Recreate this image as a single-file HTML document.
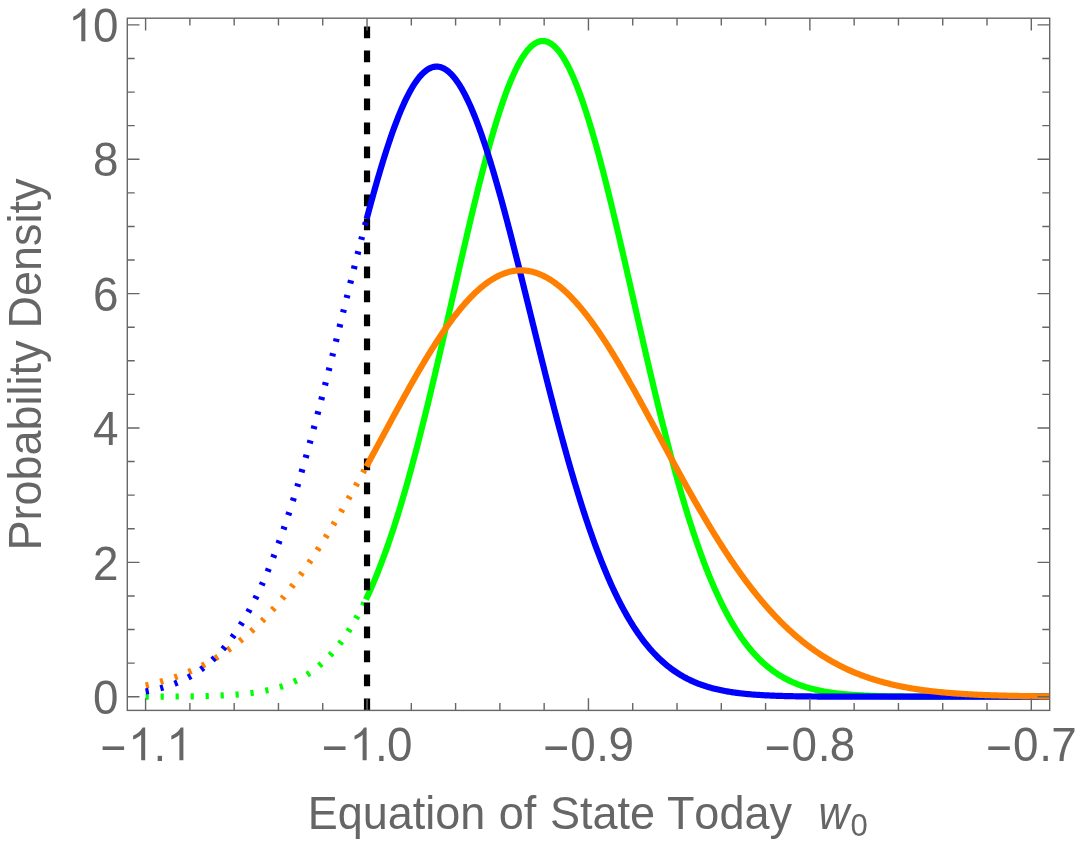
<!DOCTYPE html>
<html><head><meta charset="utf-8"><title>plot</title>
<style>html,body{margin:0;padding:0;background:#fff;}svg{display:block;will-change:transform;}text{font-kerning:none;}</style></head>
<body>
<svg width="1080" height="843" viewBox="0 0 1080 843">
<rect x="0" y="0" width="1080" height="843" fill="#fff"/>
<defs><clipPath id="cp"><rect x="127.30" y="18.20" width="922.40" height="692.20"/></clipPath></defs>
<g clip-path="url(#cp)" fill="none" stroke-linejoin="round">
<path d="M145.60 696.66 L146.71 696.65 L147.81 696.65 L148.92 696.65 L150.03 696.65 L151.14 696.64 L152.24 696.64 L153.35 696.64 L154.46 696.63 L155.56 696.63 L156.67 696.63 L157.78 696.62 L158.89 696.62 L159.99 696.61 L161.10 696.61 L162.21 696.60 L163.31 696.60 L164.42 696.59 L165.53 696.59 L166.64 696.58 L167.74 696.58 L168.85 696.57 L169.96 696.56 L171.06 696.56 L172.17 696.55 L173.28 696.54 L174.39 696.53 L175.49 696.53 L176.60 696.52 L177.71 696.51 L178.81 696.50 L179.92 696.49 L181.03 696.48 L182.14 696.47 L183.24 696.45 L184.35 696.44 L185.46 696.43 L186.56 696.42 L187.67 696.40 L188.78 696.39 L189.89 696.37 L190.99 696.36 L192.10 696.34 L193.21 696.32 L194.31 696.30 L195.42 696.28 L196.53 696.26 L197.63 696.24 L198.74 696.22 L199.85 696.20 L200.96 696.18 L202.06 696.15 L203.17 696.12 L204.28 696.10 L205.38 696.07 L206.49 696.04 L207.60 696.01 L208.71 695.98 L209.81 695.94 L210.92 695.91 L212.03 695.87 L213.13 695.84 L214.24 695.80 L215.35 695.76 L216.46 695.71 L217.56 695.67 L218.67 695.62 L219.78 695.57 L220.88 695.52 L221.99 695.47 L223.10 695.42 L224.21 695.36 L225.31 695.30 L226.42 695.24 L227.53 695.18 L228.63 695.11 L229.74 695.04 L230.85 694.97 L231.96 694.90 L233.06 694.82 L234.17 694.74 L235.28 694.66 L236.38 694.57 L237.49 694.48 L238.60 694.39 L239.71 694.29 L240.81 694.19 L241.92 694.08 L243.03 693.98 L244.13 693.86 L245.24 693.75 L246.35 693.63 L247.46 693.50 L248.56 693.37 L249.67 693.24 L250.78 693.10 L251.88 692.95 L252.99 692.80 L254.10 692.65 L255.21 692.48 L256.31 692.32 L257.42 692.15 L258.53 691.97 L259.63 691.78 L260.74 691.59 L261.85 691.39 L262.96 691.19 L264.06 690.98 L265.17 690.76 L266.28 690.53 L267.38 690.30 L268.49 690.05 L269.60 689.80 L270.71 689.54 L271.81 689.28 L272.92 689.00 L274.03 688.71 L275.13 688.42 L276.24 688.12 L277.35 687.80 L278.46 687.48 L279.56 687.14 L280.67 686.80 L281.78 686.44 L282.88 686.07 L283.99 685.69 L285.10 685.30 L286.20 684.90 L287.31 684.48 L288.42 684.06 L289.53 683.62 L290.63 683.16 L291.74 682.69 L292.85 682.21 L293.95 681.71 L295.06 681.20 L296.17 680.68 L297.28 680.13 L298.38 679.58 L299.49 679.00 L300.60 678.41 L301.70 677.81 L302.81 677.18 L303.92 676.54 L305.03 675.88 L306.13 675.20 L307.24 674.51 L308.35 673.79 L309.45 673.05 L310.56 672.30 L311.67 671.52 L312.78 670.73 L313.88 669.91 L314.99 669.07 L316.10 668.21 L317.20 667.32 L318.31 666.42 L319.42 665.49 L320.53 664.53 L321.63 663.55 L322.74 662.55 L323.85 661.52 L324.95 660.47 L326.06 659.39 L327.17 658.28 L328.28 657.15 L329.38 655.99 L330.49 654.80 L331.60 653.59 L332.70 652.34 L333.81 651.07 L334.92 649.77 L336.03 648.43 L337.13 647.07 L338.24 645.67 L339.35 644.25 L340.45 642.79 L341.56 641.30 L342.67 639.78 L343.78 638.22 L344.88 636.63 L345.99 635.01 L347.10 633.35 L348.20 631.66 L349.31 629.93 L350.42 628.17 L351.53 626.37 L352.63 624.53 L353.74 622.66 L354.85 620.75 L355.95 618.80 L357.06 616.81 L358.17 614.79 L359.28 612.73 L360.38 610.62 L361.49 608.48 L362.60 606.30 L363.70 604.08 L364.81 601.82 L365.92 599.52 L367.03 597.17" stroke="#00ff00" stroke-width="6.20" stroke-dasharray="3.2 11.8"/>
<path d="M365.92 599.52 L367.06 597.09 L368.21 594.62 L369.36 592.11 L370.50 589.55 L371.65 586.94 L372.79 584.29 L373.94 581.60 L375.08 578.86 L376.23 576.07 L377.38 573.24 L378.52 570.36 L379.67 567.43 L380.81 564.46 L381.96 561.44 L383.11 558.38 L384.25 555.26 L385.40 552.10 L386.54 548.90 L387.69 545.65 L388.84 542.35 L389.98 539.00 L391.13 535.60 L392.27 532.16 L393.42 528.68 L394.56 525.14 L395.71 521.57 L396.86 517.94 L398.00 514.27 L399.15 510.55 L400.29 506.79 L401.44 502.98 L402.59 499.13 L403.73 495.24 L404.88 491.30 L406.02 487.31 L407.17 483.29 L408.32 479.22 L409.46 475.11 L410.61 470.95 L411.75 466.76 L412.90 462.53 L414.04 458.25 L415.19 453.94 L416.34 449.59 L417.48 445.20 L418.63 440.77 L419.77 436.31 L420.92 431.81 L422.07 427.28 L423.21 422.72 L424.36 418.12 L425.50 413.49 L426.65 408.83 L427.80 404.14 L428.94 399.42 L430.09 394.67 L431.23 389.90 L432.38 385.10 L433.52 380.28 L434.67 375.43 L435.82 370.56 L436.96 365.67 L438.11 360.76 L439.25 355.83 L440.40 350.89 L441.55 345.93 L442.69 340.96 L443.84 335.97 L444.98 330.97 L446.13 325.97 L447.27 320.95 L448.42 315.93 L449.57 310.90 L450.71 305.87 L451.86 300.84 L453.00 295.80 L454.15 290.77 L455.30 285.74 L456.44 280.71 L457.59 275.69 L458.73 270.68 L459.88 265.68 L461.03 260.68 L462.17 255.70 L463.32 250.74 L464.46 245.79 L465.61 240.86 L466.75 235.95 L467.90 231.06 L469.05 226.20 L470.19 221.36 L471.34 216.55 L472.48 211.76 L473.63 207.01 L474.78 202.29 L475.92 197.61 L477.07 192.96 L478.21 188.35 L479.36 183.78 L480.51 179.25 L481.65 174.76 L482.80 170.32 L483.94 165.93 L485.09 161.59 L486.23 157.29 L487.38 153.05 L488.53 148.87 L489.67 144.74 L490.82 140.67 L491.96 136.66 L493.11 132.71 L494.26 128.82 L495.40 125.00 L496.55 121.24 L497.69 117.55 L498.84 113.94 L499.99 110.39 L501.13 106.92 L502.28 103.52 L503.42 100.20 L504.57 96.95 L505.71 93.78 L506.86 90.70 L508.01 87.70 L509.15 84.77 L510.30 81.94 L511.44 79.19 L512.59 76.52 L513.74 73.95 L514.88 71.46 L516.03 69.07 L517.17 66.76 L518.32 64.55 L519.47 62.44 L520.61 60.42 L521.76 58.49 L522.90 56.66 L524.05 54.93 L525.19 53.30 L526.34 51.76 L527.49 50.33 L528.63 49.00 L529.78 47.77 L530.92 46.64 L532.07 45.61 L533.22 44.68 L534.36 43.86 L535.51 43.14 L536.65 42.53 L537.80 42.02 L538.94 41.62 L540.09 41.32 L541.24 41.12 L542.38 41.03 L543.53 41.04 L544.67 41.16 L545.82 41.39 L546.97 41.72 L548.11 42.15 L549.26 42.69 L550.40 43.34 L551.55 44.08 L552.70 44.94 L553.84 45.89 L554.99 46.95 L556.13 48.11 L557.28 49.37 L558.42 50.73 L559.57 52.19 L560.72 53.75 L561.86 55.41 L563.01 57.17 L564.15 59.03 L565.30 60.98 L566.45 63.03 L567.59 65.18 L568.74 67.41 L569.88 69.74 L571.03 72.16 L572.18 74.67 L573.32 77.27 L574.47 79.96 L575.61 82.74 L576.76 85.60 L577.90 88.54 L579.05 91.57 L580.20 94.68 L581.34 97.87 L582.49 101.14 L583.63 104.48 L584.78 107.90 L585.93 111.39 L587.07 114.96 L588.22 118.60 L589.36 122.31 L590.51 126.08 L591.66 129.92 L592.80 133.83 L593.95 137.79 L595.09 141.82 L596.24 145.91 L597.38 150.06 L598.53 154.26 L599.68 158.51 L600.82 162.82 L601.97 167.18 L603.11 171.58 L604.26 176.04 L605.41 180.53 L606.55 185.07 L607.70 189.66 L608.84 194.28 L609.99 198.94 L611.13 203.63 L612.28 208.36 L613.43 213.12 L614.57 217.92 L615.72 222.74 L616.86 227.58 L618.01 232.45 L619.16 237.35 L620.30 242.27 L621.45 247.20 L622.59 252.15 L623.74 257.12 L624.89 262.11 L626.03 267.10 L627.18 272.11 L628.32 277.12 L629.47 282.14 L630.61 287.17 L631.76 292.20 L632.91 297.24 L634.05 302.27 L635.20 307.30 L636.34 312.33 L637.49 317.36 L638.64 322.38 L639.78 327.39 L640.93 332.40 L642.07 337.39 L643.22 342.38 L644.37 347.35 L645.51 352.30 L646.66 357.24 L647.80 362.16 L648.95 367.07 L650.09 371.95 L651.24 376.81 L652.39 381.65 L653.53 386.47 L654.68 391.26 L655.82 396.03 L656.97 400.77 L658.12 405.48 L659.26 410.16 L660.41 414.81 L661.55 419.43 L662.70 424.02 L663.85 428.58 L664.99 433.10 L666.14 437.59 L667.28 442.04 L668.43 446.45 L669.57 450.83 L670.72 455.17 L671.87 459.47 L673.01 463.74 L674.16 467.96 L675.30 472.14 L676.45 476.28 L677.60 480.38 L678.74 484.44 L679.89 488.45 L681.03 492.42 L682.18 496.35 L683.33 500.23 L684.47 504.07 L685.62 507.87 L686.76 511.62 L687.91 515.32 L689.05 518.98 L690.20 522.59 L691.35 526.16 L692.49 529.68 L693.64 533.15 L694.78 536.58 L695.93 539.96 L697.08 543.29 L698.22 546.58 L699.37 549.82 L700.51 553.01 L701.66 556.16 L702.80 559.25 L703.95 562.31 L705.10 565.31 L706.24 568.27 L707.39 571.18 L708.53 574.05 L709.68 576.87 L710.83 579.64 L711.97 582.37 L713.12 585.05 L714.26 587.69 L715.41 590.28 L716.56 592.83 L717.70 595.33 L718.85 597.79 L719.99 600.20 L721.14 602.57 L722.28 604.90 L723.43 607.18 L724.58 609.42 L725.72 611.62 L726.87 613.77 L728.01 615.89 L729.16 617.96 L730.31 619.99 L731.45 621.98 L732.60 623.93 L733.74 625.85 L734.89 627.72 L736.04 629.55 L737.18 631.35 L738.33 633.11 L739.47 634.83 L740.62 636.51 L741.76 638.16 L742.91 639.77 L744.06 641.34 L745.20 642.88 L746.35 644.39 L747.49 645.86 L748.64 647.30 L749.79 648.71 L750.93 650.08 L752.08 651.42 L753.22 652.73 L754.37 654.01 L755.52 655.26 L756.66 656.48 L757.81 657.66 L758.95 658.82 L760.10 659.95 L761.24 661.06 L762.39 662.13 L763.54 663.18 L764.68 664.20 L765.83 665.20 L766.97 666.17 L768.12 667.11 L769.27 668.03 L770.41 668.93 L771.56 669.80 L772.70 670.65 L773.85 671.48 L775.00 672.28 L776.14 673.06 L777.29 673.82 L778.43 674.56 L779.58 675.28 L780.72 675.98 L781.87 676.66 L783.02 677.32 L784.16 677.96 L785.31 678.59 L786.45 679.19 L787.60 679.78 L788.75 680.35 L789.89 680.90 L791.04 681.44 L792.18 681.96 L793.33 682.47 L794.47 682.96 L795.62 683.44 L796.77 683.90 L797.91 684.35 L799.06 684.78 L800.20 685.20 L801.35 685.61 L802.50 686.00 L803.64 686.39 L804.79 686.76 L805.93 687.11 L807.08 687.46 L808.23 687.80 L809.37 688.12 L810.52 688.44 L811.66 688.74 L812.81 689.04 L813.95 689.32 L815.10 689.60 L816.25 689.86 L817.39 690.12 L818.54 690.37 L819.68 690.61 L820.83 690.84 L821.98 691.06 L823.12 691.28 L824.27 691.49 L825.41 691.69 L826.56 691.88 L827.71 692.07 L828.85 692.25 L830.00 692.43 L831.14 692.60 L832.29 692.76 L833.43 692.92 L834.58 693.07 L835.73 693.21 L836.87 693.35 L838.02 693.49 L839.16 693.62 L840.31 693.74 L841.46 693.86 L842.60 693.98 L843.75 694.09 L844.89 694.20 L846.04 694.30 L847.19 694.40 L848.33 694.50 L849.48 694.59 L850.62 694.68 L851.77 694.77 L852.91 694.85 L854.06 694.93 L855.21 695.00 L856.35 695.07 L857.50 695.14 L858.64 695.21 L859.79 695.28 L860.94 695.34 L862.08 695.40 L863.23 695.45 L864.37 695.51 L865.52 695.56 L866.66 695.61 L867.81 695.66 L868.96 695.71 L870.10 695.75 L871.25 695.79 L872.39 695.83 L873.54 695.87 L874.69 695.91 L875.83 695.95 L876.98 695.98 L878.12 696.01 L879.27 696.05 L880.42 696.08 L881.56 696.10 L882.71 696.13 L883.85 696.16 L885.00 696.18 L886.14 696.21 L887.29 696.23 L888.44 696.25 L889.58 696.27 L890.73 696.29 L891.87 696.31 L893.02 696.33 L894.17 696.35 L895.31 696.37 L896.46 696.38 L897.60 696.40 L898.75 696.41 L899.90 696.43 L901.04 696.44 L902.19 696.45 L903.33 696.46 L904.48 696.48 L905.62 696.49 L906.77 696.50 L907.92 696.51 L909.06 696.52 L910.21 696.53 L911.35 696.54 L912.50 696.54 L913.65 696.55 L914.79 696.56 L915.94 696.57 L917.08 696.57 L918.23 696.58 L919.38 696.59 L920.52 696.59 L921.67 696.60 L922.81 696.60 L923.96 696.61 L925.10 696.61 L926.25 696.62 L927.40 696.62 L928.54 696.63 L929.69 696.63 L930.83 696.63 L931.98 696.64 L933.13 696.64 L934.27 696.64 L935.42 696.65 L936.56 696.65 L937.71 696.65 L938.86 696.65 L940.00 696.66 L941.15 696.66 L942.29 696.66 L943.44 696.66 L944.58 696.67 L945.73 696.67 L946.88 696.67 L948.02 696.67 L949.17 696.67 L950.31 696.67 L951.46 696.68 L952.61 696.68 L953.75 696.68 L954.90 696.68 L956.04 696.68 L957.19 696.68 L958.33 696.68 L959.48 696.68 L960.63 696.68 L961.77 696.69 L962.92 696.69 L964.06 696.69 L965.21 696.69 L966.36 696.69 L967.50 696.69 L968.65 696.69 L969.79 696.69 L970.94 696.69 L972.09 696.69 L973.23 696.69 L974.38 696.69 L975.52 696.69 L976.67 696.69 L977.81 696.69 L978.96 696.69 L980.11 696.69 L981.25 696.69 L982.40 696.70 L983.54 696.70 L984.69 696.70 L985.84 696.70 L986.98 696.70 L988.13 696.70 L989.27 696.70 L990.42 696.70 L991.57 696.70 L992.71 696.70 L993.86 696.70 L995.00 696.70 L996.15 696.70 L997.29 696.70 L998.44 696.70 L999.59 696.70 L1000.73 696.70 L1001.88 696.70 L1003.02 696.70 L1004.17 696.70 L1005.32 696.70 L1006.46 696.70 L1007.61 696.70 L1008.75 696.70 L1009.90 696.70 L1011.05 696.70 L1012.19 696.70 L1013.34 696.70 L1014.48 696.70 L1015.63 696.70 L1016.77 696.70 L1017.92 696.70 L1019.07 696.70 L1020.21 696.70 L1021.36 696.70 L1022.50 696.70 L1023.65 696.70 L1024.80 696.70 L1025.94 696.70 L1027.09 696.70 L1028.23 696.70 L1029.38 696.70 L1030.53 696.70 L1031.67 696.70 L1032.82 696.70 L1033.96 696.70 L1035.11 696.70 L1036.25 696.70 L1037.40 696.70 L1038.55 696.70 L1039.69 696.70 L1040.84 696.70 L1041.98 696.70 L1043.13 696.70 L1044.28 696.70 L1045.42 696.70 L1046.57 696.70 L1047.71 696.70 L1048.86 696.70 L1050.00 696.70 L1051.15 696.70 L1052.30 696.70 L1053.44 696.70" stroke="#00ff00" stroke-width="6.20"/>
<path d="M367.03 26.40 L367.03 715.40" stroke="#000" stroke-width="6.2" stroke-dasharray="11.8 12.2"/>
<path d="M145.60 685.42 L146.71 685.18 L147.81 684.93 L148.92 684.67 L150.03 684.42 L151.14 684.15 L152.24 683.89 L153.35 683.61 L154.46 683.34 L155.56 683.06 L156.67 682.77 L157.78 682.48 L158.89 682.18 L159.99 681.88 L161.10 681.57 L162.21 681.25 L163.31 680.94 L164.42 680.61 L165.53 680.28 L166.64 679.94 L167.74 679.60 L168.85 679.26 L169.96 678.90 L171.06 678.54 L172.17 678.18 L173.28 677.80 L174.39 677.43 L175.49 677.04 L176.60 676.65 L177.71 676.25 L178.81 675.85 L179.92 675.44 L181.03 675.02 L182.14 674.60 L183.24 674.17 L184.35 673.73 L185.46 673.28 L186.56 672.83 L187.67 672.37 L188.78 671.91 L189.89 671.43 L190.99 670.95 L192.10 670.46 L193.21 669.97 L194.31 669.46 L195.42 668.95 L196.53 668.43 L197.63 667.90 L198.74 667.37 L199.85 666.83 L200.96 666.27 L202.06 665.71 L203.17 665.15 L204.28 664.57 L205.38 663.98 L206.49 663.39 L207.60 662.79 L208.71 662.18 L209.81 661.56 L210.92 660.93 L212.03 660.29 L213.13 659.64 L214.24 658.99 L215.35 658.32 L216.46 657.65 L217.56 656.97 L218.67 656.27 L219.78 655.57 L220.88 654.86 L221.99 654.14 L223.10 653.41 L224.21 652.67 L225.31 651.92 L226.42 651.15 L227.53 650.38 L228.63 649.60 L229.74 648.81 L230.85 648.01 L231.96 647.20 L233.06 646.38 L234.17 645.55 L235.28 644.70 L236.38 643.85 L237.49 642.99 L238.60 642.11 L239.71 641.23 L240.81 640.33 L241.92 639.42 L243.03 638.51 L244.13 637.58 L245.24 636.64 L246.35 635.69 L247.46 634.73 L248.56 633.75 L249.67 632.77 L250.78 631.77 L251.88 630.77 L252.99 629.75 L254.10 628.72 L255.21 627.68 L256.31 626.62 L257.42 625.56 L258.53 624.48 L259.63 623.39 L260.74 622.30 L261.85 621.18 L262.96 620.06 L264.06 618.93 L265.17 617.78 L266.28 616.62 L267.38 615.45 L268.49 614.27 L269.60 613.08 L270.71 611.87 L271.81 610.65 L272.92 609.42 L274.03 608.18 L275.13 606.93 L276.24 605.66 L277.35 604.39 L278.46 603.10 L279.56 601.79 L280.67 600.48 L281.78 599.15 L282.88 597.82 L283.99 596.47 L285.10 595.11 L286.20 593.73 L287.31 592.35 L288.42 590.95 L289.53 589.54 L290.63 588.12 L291.74 586.68 L292.85 585.24 L293.95 583.78 L295.06 582.31 L296.17 580.83 L297.28 579.34 L298.38 577.83 L299.49 576.32 L300.60 574.79 L301.70 573.25 L302.81 571.70 L303.92 570.14 L305.03 568.56 L306.13 566.98 L307.24 565.38 L308.35 563.78 L309.45 562.16 L310.56 560.53 L311.67 558.89 L312.78 557.23 L313.88 555.57 L314.99 553.90 L316.10 552.21 L317.20 550.52 L318.31 548.81 L319.42 547.10 L320.53 545.37 L321.63 543.64 L322.74 541.89 L323.85 540.13 L324.95 538.37 L326.06 536.59 L327.17 534.80 L328.28 533.01 L329.38 531.20 L330.49 529.39 L331.60 527.56 L332.70 525.73 L333.81 523.89 L334.92 522.04 L336.03 520.18 L337.13 518.31 L338.24 516.44 L339.35 514.55 L340.45 512.66 L341.56 510.76 L342.67 508.85 L343.78 506.94 L344.88 505.01 L345.99 503.08 L347.10 501.15 L348.20 499.20 L349.31 497.25 L350.42 495.29 L351.53 493.33 L352.63 491.36 L353.74 489.38 L354.85 487.40 L355.95 485.41 L357.06 483.42 L358.17 481.42 L359.28 479.42 L360.38 477.41 L361.49 475.40 L362.60 473.38 L363.70 471.36 L364.81 469.34 L365.92 467.31 L367.03 465.28" stroke="#ff8000" stroke-width="6.20" stroke-dasharray="3.2 11.8"/>
<path d="M145.60 691.47 L146.71 691.28 L147.81 691.08 L148.92 690.87 L150.03 690.66 L151.14 690.44 L152.24 690.21 L153.35 689.98 L154.46 689.73 L155.56 689.48 L156.67 689.23 L157.78 688.96 L158.89 688.69 L159.99 688.40 L161.10 688.11 L162.21 687.81 L163.31 687.50 L164.42 687.18 L165.53 686.85 L166.64 686.51 L167.74 686.16 L168.85 685.80 L169.96 685.43 L171.06 685.05 L172.17 684.65 L173.28 684.25 L174.39 683.83 L175.49 683.40 L176.60 682.96 L177.71 682.51 L178.81 682.04 L179.92 681.56 L181.03 681.07 L182.14 680.56 L183.24 680.04 L184.35 679.50 L185.46 678.95 L186.56 678.38 L187.67 677.80 L188.78 677.20 L189.89 676.59 L190.99 675.96 L192.10 675.31 L193.21 674.65 L194.31 673.97 L195.42 673.27 L196.53 672.55 L197.63 671.82 L198.74 671.06 L199.85 670.29 L200.96 669.49 L202.06 668.68 L203.17 667.85 L204.28 666.99 L205.38 666.12 L206.49 665.22 L207.60 664.30 L208.71 663.36 L209.81 662.40 L210.92 661.41 L212.03 660.40 L213.13 659.37 L214.24 658.31 L215.35 657.23 L216.46 656.12 L217.56 654.99 L218.67 653.83 L219.78 652.65 L220.88 651.44 L221.99 650.20 L223.10 648.94 L224.21 647.64 L225.31 646.32 L226.42 644.98 L227.53 643.60 L228.63 642.19 L229.74 640.76 L230.85 639.29 L231.96 637.80 L233.06 636.27 L234.17 634.72 L235.28 633.13 L236.38 631.51 L237.49 629.86 L238.60 628.17 L239.71 626.46 L240.81 624.71 L241.92 622.92 L243.03 621.11 L244.13 619.26 L245.24 617.37 L246.35 615.45 L247.46 613.50 L248.56 611.51 L249.67 609.48 L250.78 607.42 L251.88 605.33 L252.99 603.19 L254.10 601.02 L255.21 598.82 L256.31 596.57 L257.42 594.29 L258.53 591.97 L259.63 589.62 L260.74 587.22 L261.85 584.79 L262.96 582.32 L264.06 579.82 L265.17 577.27 L266.28 574.68 L267.38 572.06 L268.49 569.40 L269.60 566.70 L270.71 563.96 L271.81 561.18 L272.92 558.36 L274.03 555.50 L275.13 552.61 L276.24 549.67 L277.35 546.70 L278.46 543.69 L279.56 540.63 L280.67 537.54 L281.78 534.41 L282.88 531.25 L283.99 528.04 L285.10 524.80 L286.20 521.51 L287.31 518.19 L288.42 514.84 L289.53 511.44 L290.63 508.01 L291.74 504.54 L292.85 501.03 L293.95 497.49 L295.06 493.91 L296.17 490.29 L297.28 486.65 L298.38 482.96 L299.49 479.24 L300.60 475.49 L301.70 471.70 L302.81 467.88 L303.92 464.03 L305.03 460.15 L306.13 456.23 L307.24 452.28 L308.35 448.31 L309.45 444.30 L310.56 440.26 L311.67 436.20 L312.78 432.11 L313.88 427.99 L314.99 423.84 L316.10 419.67 L317.20 415.48 L318.31 411.26 L319.42 407.02 L320.53 402.75 L321.63 398.47 L322.74 394.16 L323.85 389.83 L324.95 385.49 L326.06 381.13 L327.17 376.75 L328.28 372.35 L329.38 367.94 L330.49 363.52 L331.60 359.08 L332.70 354.63 L333.81 350.18 L334.92 345.71 L336.03 341.23 L337.13 336.75 L338.24 332.26 L339.35 327.77 L340.45 323.27 L341.56 318.77 L342.67 314.27 L343.78 309.77 L344.88 305.27 L345.99 300.77 L347.10 296.28 L348.20 291.79 L349.31 287.31 L350.42 282.83 L351.53 278.37 L352.63 273.91 L353.74 269.47 L354.85 265.04 L355.95 260.63 L357.06 256.23 L358.17 251.85 L359.28 247.49 L360.38 243.14 L361.49 238.82 L362.60 234.52 L363.70 230.25 L364.81 226.00 L365.92 221.78 L367.03 217.59" stroke="#0000ff" stroke-width="6.20" stroke-dasharray="3.2 11.8"/>
<path d="M366.69 218.85 L367.84 214.53 L368.98 210.26 L370.13 206.01 L371.27 201.81 L372.42 197.64 L373.56 193.51 L374.70 189.42 L375.85 185.37 L376.99 181.37 L378.14 177.42 L379.28 173.51 L380.43 169.65 L381.57 165.84 L382.72 162.08 L383.86 158.37 L385.01 154.72 L386.15 151.13 L387.30 147.59 L388.44 144.12 L389.58 140.70 L390.73 137.34 L391.87 134.05 L393.02 130.82 L394.16 127.66 L395.31 124.57 L396.45 121.54 L397.60 118.59 L398.74 115.70 L399.89 112.89 L401.03 110.15 L402.17 107.48 L403.32 104.89 L404.46 102.38 L405.61 99.95 L406.75 97.59 L407.90 95.31 L409.04 93.12 L410.19 91.00 L411.33 88.97 L412.48 87.03 L413.62 85.16 L414.77 83.39 L415.91 81.70 L417.05 80.09 L418.20 78.57 L419.34 77.14 L420.49 75.80 L421.63 74.55 L422.78 73.39 L423.92 72.32 L425.07 71.34 L426.21 70.45 L427.36 69.66 L428.50 68.95 L429.64 68.34 L430.79 67.82 L431.93 67.39 L433.08 67.06 L434.22 66.82 L435.37 66.67 L436.51 66.62 L437.66 66.66 L438.80 66.79 L439.95 67.02 L441.09 67.34 L442.24 67.75 L443.38 68.26 L444.52 68.86 L445.67 69.55 L446.81 70.33 L447.96 71.20 L449.10 72.17 L450.25 73.23 L451.39 74.38 L452.54 75.61 L453.68 76.94 L454.83 78.36 L455.97 79.86 L457.11 81.45 L458.26 83.13 L459.40 84.90 L460.55 86.75 L461.69 88.68 L462.84 90.70 L463.98 92.80 L465.13 94.99 L466.27 97.25 L467.42 99.59 L468.56 102.02 L469.71 104.52 L470.85 107.10 L471.99 109.75 L473.14 112.48 L474.28 115.28 L475.43 118.16 L476.57 121.10 L477.72 124.12 L478.86 127.20 L480.01 130.35 L481.15 133.57 L482.30 136.85 L483.44 140.20 L484.58 143.61 L485.73 147.08 L486.87 150.61 L488.02 154.19 L489.16 157.83 L490.31 161.53 L491.45 165.28 L492.60 169.08 L493.74 172.93 L494.89 176.84 L496.03 180.79 L497.18 184.78 L498.32 188.82 L499.46 192.90 L500.61 197.03 L501.75 201.19 L502.90 205.39 L504.04 209.63 L505.19 213.90 L506.33 218.21 L507.48 222.55 L508.62 226.92 L509.77 231.31 L510.91 235.74 L512.05 240.19 L513.20 244.66 L514.34 249.16 L515.49 253.68 L516.63 258.22 L517.78 262.77 L518.92 267.34 L520.07 271.93 L521.21 276.53 L522.36 281.14 L523.50 285.76 L524.65 290.39 L525.79 295.03 L526.93 299.67 L528.08 304.32 L529.22 308.97 L530.37 313.63 L531.51 318.28 L532.66 322.93 L533.80 327.58 L534.95 332.23 L536.09 336.87 L537.24 341.51 L538.38 346.13 L539.52 350.75 L540.67 355.36 L541.81 359.95 L542.96 364.54 L544.10 369.11 L545.25 373.66 L546.39 378.20 L547.54 382.72 L548.68 387.23 L549.83 391.71 L550.97 396.17 L552.12 400.62 L553.26 405.04 L554.40 409.43 L555.55 413.80 L556.69 418.15 L557.84 422.47 L558.98 426.76 L560.13 431.03 L561.27 435.27 L562.42 439.48 L563.56 443.65 L564.71 447.80 L565.85 451.91 L566.99 456.00 L568.14 460.05 L569.28 464.06 L570.43 468.04 L571.57 471.99 L572.72 475.90 L573.86 479.78 L575.01 483.62 L576.15 487.42 L577.30 491.18 L578.44 494.91 L579.59 498.60 L580.73 502.25 L581.87 505.86 L583.02 509.43 L584.16 512.97 L585.31 516.46 L586.45 519.91 L587.60 523.32 L588.74 526.69 L589.89 530.03 L591.03 533.31 L592.18 536.56 L593.32 539.77 L594.46 542.94 L595.61 546.06 L596.75 549.14 L597.90 552.18 L599.04 555.18 L600.19 558.14 L601.33 561.05 L602.48 563.93 L603.62 566.76 L604.77 569.55 L605.91 572.30 L607.06 575.01 L608.20 577.68 L609.34 580.30 L610.49 582.89 L611.63 585.43 L612.78 587.93 L613.92 590.39 L615.07 592.82 L616.21 595.20 L617.36 597.54 L618.50 599.84 L619.65 602.11 L620.79 604.33 L621.93 606.51 L623.08 608.66 L624.22 610.77 L625.37 612.84 L626.51 614.87 L627.66 616.86 L628.80 618.82 L629.95 620.74 L631.09 622.63 L632.24 624.48 L633.38 626.29 L634.53 628.07 L635.67 629.81 L636.81 631.52 L637.96 633.19 L639.10 634.83 L640.25 636.44 L641.39 638.01 L642.54 639.55 L643.68 641.06 L644.83 642.54 L645.97 643.98 L647.12 645.40 L648.26 646.78 L649.40 648.13 L650.55 649.46 L651.69 650.75 L652.84 652.02 L653.98 653.26 L655.13 654.47 L656.27 655.65 L657.42 656.80 L658.56 657.93 L659.71 659.03 L660.85 660.11 L662.00 661.16 L663.14 662.18 L664.28 663.19 L665.43 664.16 L666.57 665.11 L667.72 666.04 L668.86 666.95 L670.01 667.83 L671.15 668.70 L672.30 669.54 L673.44 670.36 L674.59 671.15 L675.73 671.93 L676.87 672.69 L678.02 673.43 L679.16 674.14 L680.31 674.84 L681.45 675.52 L682.60 676.19 L683.74 676.83 L684.89 677.46 L686.03 678.07 L687.18 678.66 L688.32 679.24 L689.47 679.80 L690.61 680.35 L691.75 680.88 L692.90 681.39 L694.04 681.90 L695.19 682.38 L696.33 682.85 L697.48 683.31 L698.62 683.76 L699.77 684.19 L700.91 684.61 L702.06 685.02 L703.20 685.42 L704.34 685.80 L705.49 686.17 L706.63 686.53 L707.78 686.88 L708.92 687.22 L710.07 687.55 L711.21 687.87 L712.36 688.18 L713.50 688.48 L714.65 688.77 L715.79 689.05 L716.94 689.32 L718.08 689.59 L719.22 689.84 L720.37 690.09 L721.51 690.33 L722.66 690.56 L723.80 690.78 L724.95 691.00 L726.09 691.21 L727.24 691.41 L728.38 691.61 L729.53 691.80 L730.67 691.98 L731.81 692.16 L732.96 692.33 L734.10 692.49 L735.25 692.65 L736.39 692.81 L737.54 692.95 L738.68 693.10 L739.83 693.24 L740.97 693.37 L742.12 693.50 L743.26 693.62 L744.41 693.74 L745.55 693.86 L746.69 693.97 L747.84 694.08 L748.98 694.18 L750.13 694.28 L751.27 694.38 L752.42 694.47 L753.56 694.56 L754.71 694.65 L755.85 694.73 L757.00 694.81 L758.14 694.89 L759.28 694.96 L760.43 695.03 L761.57 695.10 L762.72 695.17 L763.86 695.23 L765.01 695.29 L766.15 695.35 L767.30 695.41 L768.44 695.46 L769.59 695.51 L770.73 695.56 L771.88 695.61 L773.02 695.66 L774.16 695.70 L775.31 695.75 L776.45 695.79 L777.60 695.83 L778.74 695.86 L779.89 695.90 L781.03 695.94 L782.18 695.97 L783.32 696.00 L784.47 696.03 L785.61 696.06 L786.75 696.09 L787.90 696.12 L789.04 696.14 L790.19 696.17 L791.33 696.19 L792.48 696.21 L793.62 696.24 L794.77 696.26 L795.91 696.28 L797.06 696.30 L798.20 696.31 L799.35 696.33 L800.49 696.35 L801.63 696.37 L802.78 696.38 L803.92 696.40 L805.07 696.41 L806.21 696.42 L807.36 696.44 L808.50 696.45 L809.65 696.46 L810.79 696.47 L811.94 696.48 L813.08 696.49 L814.22 696.50 L815.37 696.51 L816.51 696.52 L817.66 696.53 L818.80 696.54 L819.95 696.55 L821.09 696.55 L822.24 696.56 L823.38 696.57 L824.53 696.57 L825.67 696.58 L826.82 696.59 L827.96 696.59 L829.10 696.60 L830.25 696.60 L831.39 696.61 L832.54 696.61 L833.68 696.62 L834.83 696.62 L835.97 696.62 L837.12 696.63 L838.26 696.63 L839.41 696.64 L840.55 696.64 L841.69 696.64 L842.84 696.64 L843.98 696.65 L845.13 696.65 L846.27 696.65 L847.42 696.66 L848.56 696.66 L849.71 696.66 L850.85 696.66 L852.00 696.66 L853.14 696.67 L854.29 696.67 L855.43 696.67 L856.57 696.67 L857.72 696.67 L858.86 696.67 L860.01 696.68 L861.15 696.68 L862.30 696.68 L863.44 696.68 L864.59 696.68 L865.73 696.68 L866.88 696.68 L868.02 696.68 L869.16 696.68 L870.31 696.68 L871.45 696.69 L872.60 696.69 L873.74 696.69 L874.89 696.69 L876.03 696.69 L877.18 696.69 L878.32 696.69 L879.47 696.69 L880.61 696.69 L881.76 696.69 L882.90 696.69 L884.04 696.69 L885.19 696.69 L886.33 696.69 L887.48 696.69 L888.62 696.69 L889.77 696.69 L890.91 696.69 L892.06 696.69 L893.20 696.70 L894.35 696.70 L895.49 696.70 L896.63 696.70 L897.78 696.70 L898.92 696.70 L900.07 696.70 L901.21 696.70 L902.36 696.70 L903.50 696.70 L904.65 696.70 L905.79 696.70 L906.94 696.70 L908.08 696.70 L909.23 696.70 L910.37 696.70 L911.51 696.70 L912.66 696.70 L913.80 696.70 L914.95 696.70 L916.09 696.70 L917.24 696.70 L918.38 696.70 L919.53 696.70 L920.67 696.70 L921.82 696.70 L922.96 696.70 L924.10 696.70 L925.25 696.70 L926.39 696.70 L927.54 696.70 L928.68 696.70 L929.83 696.70 L930.97 696.70 L932.12 696.70 L933.26 696.70 L934.41 696.70 L935.55 696.70 L936.70 696.70 L937.84 696.70 L938.98 696.70 L940.13 696.70 L941.27 696.70 L942.42 696.70 L943.56 696.70 L944.71 696.70 L945.85 696.70 L947.00 696.70 L948.14 696.70 L949.29 696.70 L950.43 696.70 L951.57 696.70 L952.72 696.70 L953.86 696.70 L955.01 696.70 L956.15 696.70 L957.30 696.70 L958.44 696.70 L959.59 696.70 L960.73 696.70 L961.88 696.70 L963.02 696.70 L964.17 696.70 L965.31 696.70 L966.45 696.70 L967.60 696.70 L968.74 696.70 L969.89 696.70 L971.03 696.70 L972.18 696.70 L973.32 696.70 L974.47 696.70 L975.61 696.70 L976.76 696.70 L977.90 696.70 L979.04 696.70 L980.19 696.70 L981.33 696.70 L982.48 696.70 L983.62 696.70 L984.77 696.70 L985.91 696.70 L987.06 696.70 L988.20 696.70 L989.35 696.70 L990.49 696.70 L991.64 696.70 L992.78 696.70 L993.92 696.70 L995.07 696.70 L996.21 696.70 L997.36 696.70 L998.50 696.70 L999.65 696.70 L1000.79 696.70 L1001.94 696.70 L1003.08 696.70 L1004.23 696.70 L1005.37 696.70 L1006.51 696.70 L1007.66 696.70 L1008.80 696.70 L1009.95 696.70 L1011.09 696.70 L1012.24 696.70 L1013.38 696.70 L1014.53 696.70 L1015.67 696.70 L1016.82 696.70 L1017.96 696.70 L1019.11 696.70 L1020.25 696.70 L1021.39 696.70 L1022.54 696.70 L1023.68 696.70 L1024.83 696.70 L1025.97 696.70 L1027.12 696.70 L1028.26 696.70 L1029.41 696.70 L1030.55 696.70 L1031.70 696.70 L1032.84 696.70 L1033.98 696.70 L1035.13 696.70 L1036.27 696.70 L1037.42 696.70 L1038.56 696.70 L1039.71 696.70 L1040.85 696.70 L1042.00 696.70 L1043.14 696.70 L1044.29 696.70 L1045.43 696.70 L1046.58 696.70 L1047.72 696.70 L1048.86 696.70 L1050.01 696.70 L1051.15 696.70 L1052.30 696.70 L1053.44 696.70" stroke="#0000ff" stroke-width="6.20"/>
<path d="M366.36 466.50 L367.51 464.40 L368.65 462.29 L369.80 460.18 L370.94 458.07 L372.09 455.95 L373.23 453.83 L374.38 451.72 L375.52 449.59 L376.67 447.47 L377.81 445.35 L378.96 443.22 L380.10 441.10 L381.25 438.97 L382.39 436.85 L383.54 434.72 L384.68 432.59 L385.83 430.47 L386.97 428.35 L388.12 426.22 L389.26 424.10 L390.41 421.98 L391.55 419.87 L392.70 417.75 L393.84 415.64 L394.99 413.54 L396.13 411.43 L397.28 409.33 L398.42 407.23 L399.57 405.14 L400.71 403.05 L401.86 400.97 L403.01 398.90 L404.15 396.82 L405.30 394.76 L406.44 392.70 L407.59 390.65 L408.73 388.60 L409.88 386.56 L411.02 384.53 L412.17 382.51 L413.31 380.50 L414.46 378.49 L415.60 376.50 L416.75 374.51 L417.89 372.53 L419.04 370.56 L420.18 368.61 L421.33 366.66 L422.47 364.72 L423.62 362.80 L424.76 360.88 L425.91 358.98 L427.05 357.09 L428.20 355.22 L429.34 353.35 L430.49 351.50 L431.63 349.66 L432.78 347.84 L433.92 346.03 L435.07 344.24 L436.21 342.46 L437.36 340.69 L438.50 338.94 L439.65 337.21 L440.79 335.49 L441.94 333.79 L443.08 332.10 L444.23 330.43 L445.38 328.78 L446.52 327.15 L447.67 325.53 L448.81 323.94 L449.96 322.36 L451.10 320.80 L452.25 319.26 L453.39 317.74 L454.54 316.23 L455.68 314.75 L456.83 313.29 L457.97 311.85 L459.12 310.43 L460.26 309.03 L461.41 307.65 L462.55 306.29 L463.70 304.95 L464.84 303.64 L465.99 302.35 L467.13 301.08 L468.28 299.83 L469.42 298.61 L470.57 297.41 L471.71 296.23 L472.86 295.08 L474.00 293.95 L475.15 292.85 L476.29 291.77 L477.44 290.71 L478.58 289.68 L479.73 288.67 L480.87 287.69 L482.02 286.74 L483.16 285.81 L484.31 284.90 L485.45 284.02 L486.60 283.17 L487.75 282.34 L488.89 281.54 L490.04 280.77 L491.18 280.02 L492.33 279.30 L493.47 278.61 L494.62 277.95 L495.76 277.31 L496.91 276.70 L498.05 276.11 L499.20 275.56 L500.34 275.03 L501.49 274.53 L502.63 274.06 L503.78 273.62 L504.92 273.20 L506.07 272.81 L507.21 272.45 L508.36 272.12 L509.50 271.82 L510.65 271.55 L511.79 271.30 L512.94 271.09 L514.08 270.90 L515.23 270.74 L516.37 270.61 L517.52 270.51 L518.66 270.43 L519.81 270.39 L520.95 270.38 L522.10 270.39 L523.24 270.43 L524.39 270.50 L525.53 270.60 L526.68 270.73 L527.82 270.89 L528.97 271.08 L530.12 271.29 L531.26 271.54 L532.41 271.81 L533.55 272.11 L534.70 272.44 L535.84 272.80 L536.99 273.18 L538.13 273.60 L539.28 274.04 L540.42 274.51 L541.57 275.01 L542.71 275.53 L543.86 276.09 L545.00 276.67 L546.15 277.28 L547.29 277.92 L548.44 278.58 L549.58 279.27 L550.73 279.99 L551.87 280.73 L553.02 281.51 L554.16 282.30 L555.31 283.13 L556.45 283.98 L557.60 284.86 L558.74 285.76 L559.89 286.69 L561.03 287.64 L562.18 288.62 L563.32 289.63 L564.47 290.66 L565.61 291.71 L566.76 292.79 L567.90 293.90 L569.05 295.02 L570.19 296.18 L571.34 297.35 L572.49 298.55 L573.63 299.77 L574.78 301.02 L575.92 302.29 L577.07 303.58 L578.21 304.89 L579.36 306.22 L580.50 307.58 L581.65 308.96 L582.79 310.36 L583.94 311.78 L585.08 313.22 L586.23 314.68 L587.37 316.16 L588.52 317.66 L589.66 319.18 L590.81 320.72 L591.95 322.28 L593.10 323.86 L594.24 325.46 L595.39 327.07 L596.53 328.70 L597.68 330.35 L598.82 332.02 L599.97 333.71 L601.11 335.41 L602.26 337.12 L603.40 338.86 L604.55 340.61 L605.69 342.37 L606.84 344.15 L607.98 345.94 L609.13 347.75 L610.27 349.58 L611.42 351.41 L612.57 353.26 L613.71 355.13 L614.86 357.00 L616.00 358.89 L617.15 360.79 L618.29 362.70 L619.44 364.63 L620.58 366.56 L621.73 368.51 L622.87 370.47 L624.02 372.44 L625.16 374.41 L626.31 376.40 L627.45 378.40 L628.60 380.40 L629.74 382.41 L630.89 384.44 L632.03 386.47 L633.18 388.50 L634.32 390.55 L635.47 392.60 L636.61 394.66 L637.76 396.72 L638.90 398.80 L640.05 400.87 L641.19 402.95 L642.34 405.04 L643.48 407.13 L644.63 409.23 L645.77 411.33 L646.92 413.43 L648.06 415.54 L649.21 417.65 L650.35 419.77 L651.50 421.88 L652.64 424.00 L653.79 426.12 L654.94 428.24 L656.08 430.37 L657.23 432.49 L658.37 434.62 L659.52 436.74 L660.66 438.87 L661.81 440.99 L662.95 443.12 L664.10 445.25 L665.24 447.37 L666.39 449.49 L667.53 451.61 L668.68 453.73 L669.82 455.85 L670.97 457.96 L672.11 460.08 L673.26 462.19 L674.40 464.29 L675.55 466.40 L676.69 468.50 L677.84 470.59 L678.98 472.68 L680.13 474.77 L681.27 476.85 L682.42 478.93 L683.56 481.00 L684.71 483.07 L685.85 485.13 L687.00 487.19 L688.14 489.24 L689.29 491.28 L690.43 493.32 L691.58 495.35 L692.72 497.38 L693.87 499.40 L695.01 501.41 L696.16 503.41 L697.31 505.40 L698.45 507.39 L699.60 509.37 L700.74 511.34 L701.89 513.30 L703.03 515.26 L704.18 517.20 L705.32 519.14 L706.47 521.07 L707.61 522.99 L708.76 524.90 L709.90 526.80 L711.05 528.69 L712.19 530.57 L713.34 532.44 L714.48 534.30 L715.63 536.15 L716.77 537.99 L717.92 539.82 L719.06 541.63 L720.21 543.44 L721.35 545.24 L722.50 547.02 L723.64 548.80 L724.79 550.56 L725.93 552.32 L727.08 554.06 L728.22 555.79 L729.37 557.51 L730.51 559.21 L731.66 560.91 L732.80 562.59 L733.95 564.26 L735.09 565.92 L736.24 567.57 L737.38 569.20 L738.53 570.82 L739.68 572.43 L740.82 574.03 L741.97 575.62 L743.11 577.19 L744.26 578.75 L745.40 580.30 L746.55 581.84 L747.69 583.36 L748.84 584.87 L749.98 586.37 L751.13 587.85 L752.27 589.33 L753.42 590.79 L754.56 592.23 L755.71 593.67 L756.85 595.09 L758.00 596.50 L759.14 597.89 L760.29 599.28 L761.43 600.65 L762.58 602.00 L763.72 603.35 L764.87 604.68 L766.01 606.00 L767.16 607.30 L768.30 608.59 L769.45 609.87 L770.59 611.14 L771.74 612.40 L772.88 613.64 L774.03 614.87 L775.17 616.08 L776.32 617.29 L777.46 618.48 L778.61 619.65 L779.75 620.82 L780.90 621.97 L782.05 623.11 L783.19 624.24 L784.34 625.36 L785.48 626.46 L786.63 627.55 L787.77 628.63 L788.92 629.69 L790.06 630.75 L791.21 631.79 L792.35 632.82 L793.50 633.84 L794.64 634.84 L795.79 635.84 L796.93 636.82 L798.08 637.79 L799.22 638.74 L800.37 639.69 L801.51 640.62 L802.66 641.55 L803.80 642.46 L804.95 643.36 L806.09 644.25 L807.24 645.12 L808.38 645.99 L809.53 646.85 L810.67 647.69 L811.82 648.52 L812.96 649.34 L814.11 650.15 L815.25 650.95 L816.40 651.74 L817.54 652.52 L818.69 653.29 L819.83 654.05 L820.98 654.80 L822.12 655.53 L823.27 656.26 L824.42 656.98 L825.56 657.68 L826.71 658.38 L827.85 659.07 L829.00 659.74 L830.14 660.41 L831.29 661.07 L832.43 661.72 L833.58 662.35 L834.72 662.98 L835.87 663.60 L837.01 664.21 L838.16 664.82 L839.30 665.41 L840.45 665.99 L841.59 666.57 L842.74 667.13 L843.88 667.69 L845.03 668.24 L846.17 668.78 L847.32 669.31 L848.46 669.83 L849.61 670.35 L850.75 670.86 L851.90 671.36 L853.04 671.85 L854.19 672.33 L855.33 672.81 L856.48 673.27 L857.62 673.73 L858.77 674.19 L859.91 674.63 L861.06 675.07 L862.20 675.50 L863.35 675.92 L864.50 676.34 L865.64 676.75 L866.79 677.15 L867.93 677.55 L869.08 677.94 L870.22 678.32 L871.37 678.69 L872.51 679.06 L873.66 679.43 L874.80 679.78 L875.95 680.13 L877.09 680.48 L878.24 680.81 L879.38 681.15 L880.53 681.47 L881.67 681.79 L882.82 682.11 L883.96 682.42 L885.11 682.72 L886.25 683.02 L887.40 683.31 L888.54 683.60 L889.69 683.88 L890.83 684.16 L891.98 684.43 L893.12 684.69 L894.27 684.95 L895.41 685.21 L896.56 685.46 L897.70 685.71 L898.85 685.95 L899.99 686.19 L901.14 686.42 L902.28 686.65 L903.43 686.87 L904.57 687.09 L905.72 687.31 L906.87 687.52 L908.01 687.73 L909.16 687.93 L910.30 688.13 L911.45 688.32 L912.59 688.52 L913.74 688.70 L914.88 688.89 L916.03 689.07 L917.17 689.24 L918.32 689.41 L919.46 689.58 L920.61 689.75 L921.75 689.91 L922.90 690.07 L924.04 690.23 L925.19 690.38 L926.33 690.53 L927.48 690.67 L928.62 690.82 L929.77 690.96 L930.91 691.09 L932.06 691.23 L933.20 691.36 L934.35 691.49 L935.49 691.61 L936.64 691.74 L937.78 691.86 L938.93 691.98 L940.07 692.09 L941.22 692.20 L942.36 692.31 L943.51 692.42 L944.65 692.53 L945.80 692.63 L946.94 692.73 L948.09 692.83 L949.24 692.93 L950.38 693.02 L951.53 693.11 L952.67 693.20 L953.82 693.29 L954.96 693.38 L956.11 693.46 L957.25 693.54 L958.40 693.62 L959.54 693.70 L960.69 693.78 L961.83 693.85 L962.98 693.93 L964.12 694.00 L965.27 694.07 L966.41 694.14 L967.56 694.20 L968.70 694.27 L969.85 694.33 L970.99 694.39 L972.14 694.45 L973.28 694.51 L974.43 694.57 L975.57 694.63 L976.72 694.68 L977.86 694.74 L979.01 694.79 L980.15 694.84 L981.30 694.89 L982.44 694.94 L983.59 694.99 L984.73 695.03 L985.88 695.08 L987.02 695.12 L988.17 695.16 L989.31 695.21 L990.46 695.25 L991.61 695.29 L992.75 695.33 L993.90 695.36 L995.04 695.40 L996.19 695.44 L997.33 695.47 L998.48 695.50 L999.62 695.54 L1000.77 695.57 L1001.91 695.60 L1003.06 695.63 L1004.20 695.66 L1005.35 695.69 L1006.49 695.72 L1007.64 695.75 L1008.78 695.78 L1009.93 695.80 L1011.07 695.83 L1012.22 695.85 L1013.36 695.88 L1014.51 695.90 L1015.65 695.92 L1016.80 695.95 L1017.94 695.97 L1019.09 695.99 L1020.23 696.01 L1021.38 696.03 L1022.52 696.05 L1023.67 696.07 L1024.81 696.09 L1025.96 696.10 L1027.10 696.12 L1028.25 696.14 L1029.39 696.16 L1030.54 696.17 L1031.68 696.19 L1032.83 696.20 L1033.98 696.22 L1035.12 696.23 L1036.27 696.25 L1037.41 696.26 L1038.56 696.27 L1039.70 696.29 L1040.85 696.30 L1041.99 696.31 L1043.14 696.32 L1044.28 696.33 L1045.43 696.34 L1046.57 696.36 L1047.72 696.37 L1048.86 696.38 L1050.01 696.39 L1051.15 696.40 L1052.30 696.41 L1053.44 696.41" stroke="#ff8000" stroke-width="6.20"/>
</g>
<g stroke="#666666" stroke-width="1.4" fill="none">
<rect x="127.30" y="18.20" width="922.40" height="692.20"/>
<path d="M145.60 710.40 v-12.20 M145.60 18.20 v12.20 M189.89 710.40 v-7.40 M189.89 18.20 v7.40 M234.17 710.40 v-7.40 M234.17 18.20 v7.40 M278.46 710.40 v-7.40 M278.46 18.20 v7.40 M322.74 710.40 v-7.40 M322.74 18.20 v7.40 M367.03 710.40 v-12.20 M367.03 18.20 v12.20 M411.31 710.40 v-7.40 M411.31 18.20 v7.40 M455.60 710.40 v-7.40 M455.60 18.20 v7.40 M499.88 710.40 v-7.40 M499.88 18.20 v7.40 M544.16 710.40 v-7.40 M544.16 18.20 v7.40 M588.45 710.40 v-12.20 M588.45 18.20 v12.20 M632.73 710.40 v-7.40 M632.73 18.20 v7.40 M677.02 710.40 v-7.40 M677.02 18.20 v7.40 M721.30 710.40 v-7.40 M721.30 18.20 v7.40 M765.59 710.40 v-7.40 M765.59 18.20 v7.40 M809.88 710.40 v-12.20 M809.88 18.20 v12.20 M854.16 710.40 v-7.40 M854.16 18.20 v7.40 M898.45 710.40 v-7.40 M898.45 18.20 v7.40 M942.73 710.40 v-7.40 M942.73 18.20 v7.40 M987.01 710.40 v-7.40 M987.01 18.20 v7.40 M1031.30 710.40 v-12.20 M1031.30 18.20 v12.20 M127.30 696.70 h12.20 M1049.70 696.70 h-12.20 M127.30 663.11 h7.40 M1049.70 663.11 h-7.40 M127.30 629.52 h7.40 M1049.70 629.52 h-7.40 M127.30 595.93 h7.40 M1049.70 595.93 h-7.40 M127.30 562.34 h12.20 M1049.70 562.34 h-12.20 M127.30 528.75 h7.40 M1049.70 528.75 h-7.40 M127.30 495.16 h7.40 M1049.70 495.16 h-7.40 M127.30 461.57 h7.40 M1049.70 461.57 h-7.40 M127.30 427.98 h12.20 M1049.70 427.98 h-12.20 M127.30 394.39 h7.40 M1049.70 394.39 h-7.40 M127.30 360.80 h7.40 M1049.70 360.80 h-7.40 M127.30 327.21 h7.40 M1049.70 327.21 h-7.40 M127.30 293.62 h12.20 M1049.70 293.62 h-12.20 M127.30 260.03 h7.40 M1049.70 260.03 h-7.40 M127.30 226.44 h7.40 M1049.70 226.44 h-7.40 M127.30 192.85 h7.40 M1049.70 192.85 h-7.40 M127.30 159.26 h12.20 M1049.70 159.26 h-12.20 M127.30 125.67 h7.40 M1049.70 125.67 h-7.40 M127.30 92.08 h7.40 M1049.70 92.08 h-7.40 M127.30 58.49 h7.40 M1049.70 58.49 h-7.40 M127.30 24.90 h12.20 M1049.70 24.90 h-12.20"/>
</g>
<g font-family="Liberation Sans, sans-serif" fill="#666666" font-size="45.80">
<rect class="xt" x="102.60" y="746.40" width="21.5" height="3.6"/>
<path class="xt" d="M763 0H583V1147Q518 1085 412.5 1023T223 930V1104Q374 1175 487 1276T647 1472H763Z" transform="translate(128.14,760.20) scale(0.02236,-0.02217)"/>
<text class="xt" transform="translate(153.51,761.10) scale(1,1.030)">.</text>
<path class="xt" d="M763 0H583V1147Q518 1085 412.5 1023T223 930V1104Q374 1175 487 1276T647 1472H763Z" transform="translate(166.34,760.20) scale(0.02236,-0.02217)"/>
<rect class="xt" x="324.02" y="746.40" width="21.5" height="3.6"/>
<path class="xt" d="M763 0H583V1147Q518 1085 412.5 1023T223 930V1104Q374 1175 487 1276T647 1472H763Z" transform="translate(349.57,760.20) scale(0.02236,-0.02217)"/>
<text class="xt" transform="translate(374.93,761.10) scale(1,1.030)">.</text>
<text class="xt" transform="translate(386.96,761.10) scale(1,1.030)">0</text>
<rect class="xt" x="545.45" y="746.40" width="21.5" height="3.6"/>
<text class="xt" transform="translate(570.19,761.10) scale(1,1.030)">0</text>
<text class="xt" transform="translate(596.36,761.10) scale(1,1.030)">.</text>
<text class="xt" transform="translate(608.39,761.10) scale(1,1.030)">9</text>
<rect class="xt" x="766.87" y="746.40" width="21.5" height="3.6"/>
<text class="xt" transform="translate(791.62,761.10) scale(1,1.030)">0</text>
<text class="xt" transform="translate(817.78,761.10) scale(1,1.030)">.</text>
<text class="xt" transform="translate(829.81,761.10) scale(1,1.030)">8</text>
<rect class="xt" x="988.30" y="746.40" width="21.5" height="3.6"/>
<text class="xt" transform="translate(1013.04,761.10) scale(1,1.030)">0</text>
<text class="xt" transform="translate(1039.21,761.10) scale(1,1.030)">.</text>
<text class="xt" transform="translate(1051.24,761.10) scale(1,1.030)">7</text>
<text class="yt" transform="translate(92.94,713.90) scale(1,1.030)">0</text>
<text class="yt" transform="translate(92.94,579.54) scale(1,1.030)">2</text>
<text class="yt" transform="translate(92.94,445.18) scale(1,1.030)">4</text>
<text class="yt" transform="translate(92.94,310.82) scale(1,1.030)">6</text>
<text class="yt" transform="translate(92.94,176.46) scale(1,1.030)">8</text>
<path class="yt" d="M763 0H583V1147Q518 1085 412.5 1023T223 930V1104Q374 1175 487 1276T647 1472H763Z" transform="translate(68.27,41.20) scale(0.02236,-0.02217)"/>
<text class="yt" transform="translate(92.94,42.10) scale(1,1.030)">0</text>
</g>
<g font-family="Liberation Sans, sans-serif" fill="#666666" font-size="45.00">
<text id="xl0" transform="translate(307.70,828.6) scale(1,1.030)">Equation</text>
<text id="xl1" transform="translate(498.80,828.6) scale(1,1.030)">of</text>
<text id="xl2" transform="translate(550.10,828.6) scale(1,1.030)">State</text>
<text id="xl3" transform="translate(666.90,828.6) scale(1,1.030)">Today</text>
<text id="xw" transform="translate(818.6,828.6) scale(0.95,1.030)" font-style="italic">w</text>
<text id="xs" x="850.5" y="836.4" font-size="31">0</text>
<text id="yl0" transform="translate(40.7,550.6) rotate(-90) scale(1,1.030)">Probability</text>
<text id="yl1" transform="translate(40.7,328.5) rotate(-90) scale(1,1.030)">Density</text>
</g>
</svg>
</body></html>
